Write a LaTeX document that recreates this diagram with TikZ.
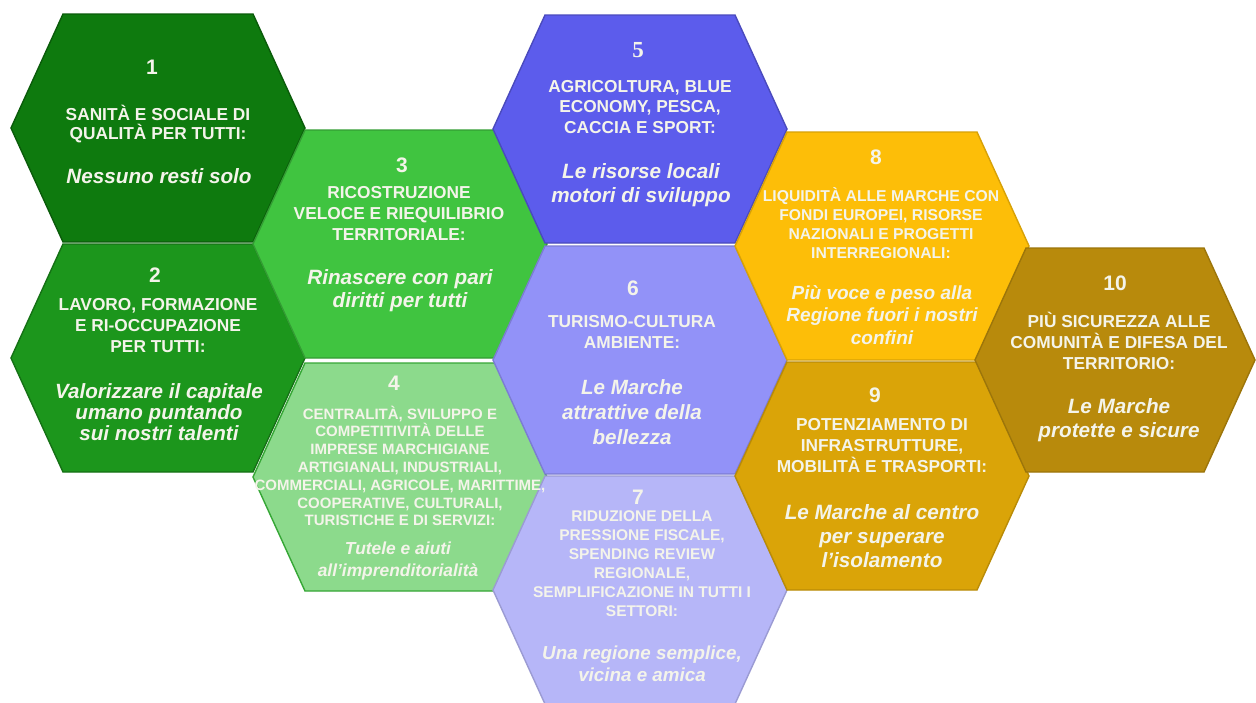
\documentclass[tikz,border=0pt]{standalone}
\usepackage{fontspec}
\setmainfont{Liberation Sans}
\newfontfamily\numserif{Liberation Serif}
\definecolor{hA}{RGB}{14,122,14}
\definecolor{hB}{RGB}{28,150,28}
\definecolor{hC}{RGB}{64,196,64}
\definecolor{hD}{RGB}{140,218,140}
\definecolor{hE}{RGB}{92,92,236}
\definecolor{hF}{RGB}{146,146,248}
\definecolor{hG}{RGB}{182,182,248}
\definecolor{hH}{RGB}{253,190,8}
\definecolor{hI}{RGB}{218,164,8}
\definecolor{hJ}{RGB}{184,138,12}
\definecolor{txtc}{RGB}{244,244,234}
\tikzset{
  hexbox/.style={line width=1.4pt, line join=miter},
  numtxt/.style={text=txtc, inner sep=0pt, font=\bfseries\fontsize{21}{24}\selectfont},
  captxt/.style 2 args={text=txtc, align=center, inner sep=0pt, font=\bfseries\fontsize{#1}{#2}\selectfont},
  ittxt/.style 2 args={text=txtc, align=center, inner sep=0pt, font=\bfseries\itshape\fontsize{#1}{#2}\selectfont},
}
\newcommand{\drawhex}[7]{%
  \filldraw[hexbox, fill=#1, draw=#7] (#2-#5,#3-#6) -- (#2+#5,#3-#6) -- (#2+#4,#3) -- (#2+#5,#3+#6) -- (#2-#5,#3+#6) -- (#2-#4,#3) -- cycle;}
\begin{document}
\begin{tikzpicture}[x=1pt,y=-1pt]
\useasboundingbox (0,0) rectangle (1256,702);
\fill[white] (0,0) rectangle (1256,702);
% hexagons
\drawhex{hA}{158}{128}{147}{95}{114}{hA!75!black}
\drawhex{hB}{158}{358}{147}{95}{114}{hB!75!black}
\drawhex{hC}{400}{244}{147}{95}{114}{hC!80!black}
\drawhex{hD}{400}{477}{147}{95}{114}{hC!85!black}
\drawhex{hE}{640}{129}{147}{95}{114}{hE!80!black}
\drawhex{hF}{640}{360}{147}{95}{114}{hF!85!black}
\drawhex{hG}{640}{590}{147}{95}{114}{hG!85!black}
\drawhex{hH}{882}{246}{147}{95}{114}{hH!85!black}
\drawhex{hI}{882}{476}{147}{95}{114}{hI!85!black}
\drawhex{hJ}{1115}{360}{140}{89}{112}{hJ!85!black}
% 1
\node[numtxt] (n1) at (152,67) {1};
\node[captxt={17.3}{18.3}] (c1) at (158,124) {SANITÀ E SOCIALE DI\\QUALITÀ PER TUTTI:};
\node[ittxt={20.7}{23}] (t1) at (159,176) {Nessuno resti solo};
% 2
\node[numtxt] (n2) at (155,275) {2};
\node[captxt={17.3}{21}] (c2) at (158,326) {LAVORO, FORMAZIONE\\E RI-OCCUPAZIONE\\PER TUTTI:};
\node[ittxt={20.6}{20.8}] (t2) at (159,412) {Valorizzare il capitale\\umano puntando\\sui nostri talenti};
% 3
\node[numtxt] (n3) at (402,165) {3};
\node[captxt={17.3}{21}] (c3) at (399,214) {RICOSTRUZIONE\\VELOCE E RIEQUILIBRIO\\TERRITORIALE:};
\node[ittxt={20.7}{23}] (t3) at (400,291) {Rinascere con pari\\diritti per tutti};
% 4
\node[numtxt] (n4) at (394,383) {4};
\node[captxt={15}{17.8}] (c4) at (400,466) {CENTRALITÀ, SVILUPPO E\\COMPETITIVITÀ DELLE\\IMPRESE MARCHIGIANE\\ARTIGIANALI, INDUSTRIALI,\\COMMERCIALI, AGRICOLE, MARITTIME,\\COOPERATIVE, CULTURALI,\\TURISTICHE E DI SERVIZI:};
\node[ittxt={17.4}{22}] (t4) at (398,561) {Tutele e aiuti\\all'imprenditorialità};
% 5
\node[numtxt, font=\numserif\bfseries\fontsize{23}{26}\selectfont] (n5) at (638,50) {5};
\node[captxt={17.3}{20.5}] (c5) at (640,107) {AGRICOLTURA, BLUE\\ECONOMY, PESCA,\\CACCIA E SPORT:};
\node[ittxt={20.7}{24}] (t5) at (641,185) {Le risorse locali\\motori di sviluppo};
% 6
\node[numtxt] (n6) at (633,288) {6};
\node[captxt={17.3}{21}] (c6) at (632,332) {TURISMO-CULTURA\\AMBIENTE:};
\node[ittxt={20.6}{25}] (t6) at (632,412) {Le Marche\\attrattive della\\bellezza};
% 7
\node[numtxt] (n7) at (638,497) {7};
\node[captxt={15.5}{19}] (c7) at (642,564) {RIDUZIONE DELLA\\PRESSIONE FISCALE,\\SPENDING REVIEW\\REGIONALE,\\SEMPLIFICAZIONE IN TUTTI I\\SETTORI:};
\node[ittxt={18.8}{22}] (t7) at (642,664) {Una regione semplice,\\vicina e amica};
% 8
\node[numtxt] (n8) at (876,157) {8};
\node[captxt={15.7}{19}] (c8) at (881,223) {LIQUIDITÀ ALLE MARCHE CON\\FONDI EUROPEI, RISORSE\\NAZIONALI E PROGETTI\\INTERREGIONALI:};
\node[ittxt={19}{22.5}] (t8) at (882,315) {Più voce e peso alla\\Regione fuori i nostri\\confini};
% 9
\node[numtxt] (n9) at (875,395) {9};
\node[captxt={17.3}{21}] (c9) at (882,446) {POTENZIAMENTO DI\\INFRASTRUTTURE,\\MOBILITÀ E TRASPORTI:};
\node[ittxt={20.7}{24}] (t9) at (882,536) {Le Marche al centro\\per superare\\l'isolamento};
% 10
\node[numtxt] (n10) at (1115,283) {10};
\node[captxt={17.3}{21}] (c10) at (1119,341) {PIÙ SICUREZZA ALLE\\COMUNITÀ E DIFESA DEL\\TERRITORIO:};
\node[ittxt={20.7}{24}] (t10) at (1119,420) {Le Marche\\protette e sicure};
\end{tikzpicture}
\end{document}
